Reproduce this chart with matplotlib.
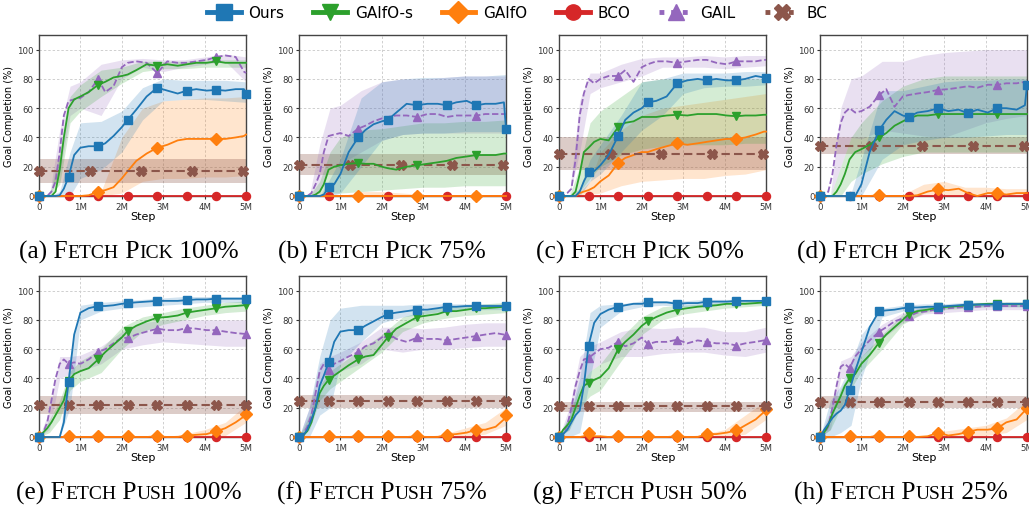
import numpy as np
import matplotlib
matplotlib.use("Agg")
import matplotlib.pyplot as plt
from matplotlib.lines import Line2D
from matplotlib.offsetbox import TextArea, HPacker, AnnotationBbox

# training steps (millions) for the mean curves, and a coarser grid for the bands
steps = [0, 0.1, 0.2, 0.3, 0.4, 0.5, 0.6, 0.714, 0.85, 1.0, 1.2, 1.429, 1.6, 1.8, 2.0,
         2.143, 2.35, 2.6, 2.857, 3.1, 3.35, 3.571, 3.8, 4.05, 4.286, 4.5, 4.75, 4.95, 5.0]
band_steps = [0, 0.25, 0.5, 0.75, 1, 1.5, 2, 2.5, 3, 3.5, 4, 4.5, 5]

tick_labels = ["0", "1M", "2M", "3M", "4M", "5M"]
methods = ["Ours", "GAIfO-s", "GAIfO", "BCO", "GAIL", "BC"]
captions = [("a", "Pick", "100%"), ("b", "Pick", "75%"), ("c", "Pick", "50%"), ("d", "Pick", "25%"),
            ("e", "Push", "100%"), ("f", "Push", "75%"), ("g", "Push", "50%"), ("h", "Push", "25%")]

zeros = [0] * len(steps)
band_zeros = [0] * len(band_steps)

# ---- (a) Fetch Pick 100%
pick100_ours = [0, 0, 0, 0, 0, 0.5, 5, 13, 28, 33, 34, 34, 36, 41, 47, 52, 59, 68, 74, 72, 70, 72, 73, 72, 72.5, 72, 73, 73, 70]
pick100_ours_lo = [0, 0, 0, 0, 12, 18, 30, 52, 65, 66, 66, 65, 64]
pick100_ours_hi = [0, 0, 3, 30, 50, 51, 58, 74, 80, 79, 79, 79, 78]
pick100_gaifos = [0, 0, 0, 0, 3, 18, 40, 60, 66, 68, 71, 76, 78, 81, 82, 83, 86, 90, 89, 90, 89, 90, 91, 91, 92, 91, 91, 91, 91]
pick100_gaifos_lo = [0, 0, 8, 50, 58, 68, 77, 85, 87, 87, 88, 88, 88]
pick100_gaifos_hi = [0, 0, 30, 68, 76, 86, 88, 92, 92, 92, 93, 93, 93]
pick100_gail = [0, 0, 0, 3, 10, 30, 55, 65, 66, 67, 71, 80, 71, 75, 88, 91, 92, 91, 84, 92, 91, 91, 92, 93, 95, 96, 95, 85, 84]
pick100_gail_lo = [0, 0, 15, 55, 60, 55, 80, 88, 85, 88, 90, 92, 78]
pick100_gail_hi = [0, 0, 45, 75, 78, 90, 93, 94, 93, 93, 95, 97, 95]
pick100_gaifo = [0, 0, 0, 0, 0, 0, 0, 0, 0, 0, 0.5, 3, 4, 6, 12, 17, 24, 29, 33, 35, 38, 39, 39, 39, 39, 39, 40, 41, 42]
pick100_gaifo_lo = [0, 0, 0, 0, 0, 0, 2, 10, 12, 12, 13, 13, 14]
pick100_gaifo_hi = [0, 0, 0, 0, 0, 3, 40, 60, 65, 66, 67, 67, 68]
pick100_bc, pick100_bc_band = 17, (9, 25)

# ---- (b) Fetch Pick 75%
pick75_ours = [0, 0, 0, 0, 0, 0, 1, 6, 8, 15, 30, 40, 45, 49, 51, 52, 57, 63, 62, 63, 63, 62, 64, 65, 62, 63, 63, 64, 46]
pick75_ours_lo = [0, 0, 0, 0, 2, 20, 38, 42, 43, 43, 44, 44, 44]
pick75_ours_hi = [0, 0, 0, 12, 25, 67, 78, 80, 81, 81, 82, 82, 83]
pick75_gaifos = [0, 0, 0, 0, 1, 3, 8, 18, 20, 21, 22, 22.5, 22, 22, 20, 19, 18, 20, 21, 22, 23, 24, 26, 27, 28, 28, 28, 29, 29]
pick75_gaifos_lo = [0, 0, 0, 2, 2, 3, 4, 5, 6, 6, 7, 7, 7]
pick75_gaifos_hi = [0, 0, 10, 30, 40, 45, 46, 48, 50, 50, 51, 51, 52]
pick75_gail = [0, 0, 0, 2, 8, 15, 30, 41, 42, 43, 41, 46, 48, 51, 53, 54, 55, 55, 54, 56, 56, 54, 55, 55, 55, 56, 56, 56, 56]
pick75_gail_lo = [0, 0, 2, 20, 22, 30, 38, 42, 43, 43, 43, 43, 43]
pick75_gail_hi = [0, 0, 35, 60, 62, 72, 78, 80, 80, 81, 82, 82, 82]
pick75_gaifo = zeros
pick75_gaifo_lo = band_zeros
pick75_gaifo_hi = [0, 0, 0, 0, 0, 3, 3, 2, 1, 1, 1, 1, 1]
pick75_bc, pick75_bc_band = 21.5, (14.5, 29)

# ---- (c) Fetch Pick 50%
pick50_ours = [0, 0, 0, 0, 0, 3, 10, 16.5, 17, 21, 28, 41, 52, 57, 60, 64, 65, 68, 77, 79, 80, 79, 80, 79, 79, 80, 82, 81, 80.5]
pick50_ours_lo = [0, 0, 0, 10, 15, 30, 45, 55, 70, 74, 75, 75, 76]
pick50_ours_hi = [0, 0, 5, 25, 35, 55, 78, 80, 84, 84, 84, 85, 85]
pick50_gaifos = [0, 0, 0, 0, 3, 15, 30, 33, 37, 39, 38, 47, 50, 51, 54, 54, 54, 55, 55.5, 55, 56, 56, 56, 55, 54.5, 55, 55, 55.5, 55.5]
pick50_gaifos_lo = [0, 0, 3, 12, 20, 28, 32, 34, 35, 35, 35, 36, 36]
pick50_gaifos_hi = [0, 0, 20, 50, 58, 68, 78, 80, 80, 80, 80, 80, 80]
pick50_gail = [0, 0, 2, 5, 25, 55, 70, 80, 77, 80, 82, 82, 86, 78, 88, 90, 92, 92, 91, 92, 93, 93, 91, 90, 92, 92, 92, 93, 93]
pick50_gail_lo = [0, 0, 30, 70, 74, 78, 82, 88, 88, 88, 87, 88, 89]
pick50_gail_hi = [0, 0, 65, 84, 84, 90, 94, 95, 95, 96, 95, 96, 96]
pick50_gaifo = [0, 0, 0, 0, 0, 2, 3, 4, 6, 10, 14, 22.5, 26, 28, 30, 30, 32, 34, 36, 35, 36, 37, 38, 39, 39, 40, 42, 44, 44]
pick50_gaifo_lo = [0, 0, 0, 1, 2, 7, 10, 11, 12, 12, 14, 15, 18]
pick50_gaifo_hi = [0, 0, 3, 10, 30, 45, 55, 60, 62, 64, 66, 68, 70]
pick50_bc, pick50_bc_band = 29, (18, 40)

# ---- (d) Fetch Pick 25%
pick25_ours = [0, 0, 0, 0, 0, 0, 0, 0, 0, 8, 30, 45, 52, 58, 55, 54, 57, 58, 60, 58, 59, 56.5, 59, 57, 60, 60, 59, 62, 76]
pick25_ours_lo = [0, 0, 0, 0, 0, 25, 35, 38, 40, 40, 41, 42, 42]
pick25_ours_hi = [0, 0, 0, 2, 25, 72, 72, 75, 78, 79, 79, 80, 80]
pick25_gaifos = [0, 0, 0, 0, 3, 8, 15, 25, 30, 32, 35, 40, 43, 48, 51, 53, 55, 55, 56, 56, 56, 56, 56, 56, 56, 56, 56, 56, 56]
pick25_gaifos_lo = [0, 0, 0, 10, 15, 22, 27, 30, 30, 30, 30, 30, 30]
pick25_gaifos_hi = [0, 0, 20, 40, 50, 65, 75, 80, 82, 82, 82, 82, 82]
pick25_gail = [0, 0, 3, 15, 35, 50, 57, 60, 57, 58, 61, 69, 73, 61, 68, 69, 70, 71, 72.5, 73, 74, 75, 74, 76, 76, 77, 77, 78, 78]
pick25_gail_lo = [0, 0, 20, 40, 39, 45, 43, 41, 40, 45, 50, 53, 55]
pick25_gail_hi = [0, 0, 60, 80, 82, 92, 92, 96, 98, 99, 100, 100, 100]
pick25_gaifo = [0, 0, 0, 0, 0, 0, 0, 0, 0, 0, 0, 0.5, 0, 0, 0, 0, 0.5, 3, 4.5, 4, 5, 2, 0, 2, 2, 1, 2, 2, 2]
pick25_gaifo_lo = band_zeros
pick25_gaifo_hi = [0, 0, 0, 0, 0, 1, 1, 8, 10, 6, 6, 5, 5]
pick25_bc, pick25_bc_band = 34.5, (29, 40)

# ---- (e) Fetch Push 100%
push100_ours = [0, 0, 0, 0, 0, 0, 10, 37.5, 70, 85, 88, 89.5, 89.5, 90, 91, 91.5, 92, 92.5, 93, 93, 93, 93.5, 94, 94, 94.5, 94.5, 94.5, 94.5, 94.5]
push100_ours_lo = [0, 0, 0, 20, 80, 86, 88, 89, 90, 91, 92, 92, 92]
push100_ours_hi = [0, 0, 0, 55, 90, 92, 93, 94, 95, 96, 96, 96, 96]
push100_gaifos = [0, 3, 6, 10, 15, 20, 25, 38, 43, 45, 47, 53, 58, 63, 68, 72.5, 76, 79, 81.5, 82, 83, 85, 86, 87, 88, 89, 89.5, 90, 90]
push100_gaifos_lo = [0, 3, 12, 32, 38, 44, 60, 72, 77, 80, 83, 85, 86]
push100_gaifos_hi = [0, 12, 25, 45, 52, 60, 75, 82, 85, 88, 90, 92, 93]
push100_gail = [0, 3, 10, 25, 40, 50, 53, 50, 51, 50, 53, 58, 60, 64, 68, 67.5, 70, 72, 74, 73, 73, 74.5, 74, 73, 73, 72, 71, 70.5, 70.5]
push100_gail_lo = [0, 5, 40, 43, 45, 50, 60, 63, 65, 64, 63, 62, 62]
push100_gail_hi = [0, 18, 55, 55, 56, 62, 72, 78, 80, 80, 80, 80, 80]
push100_gaifo = [0, 0, 0, 0, 0, 0, 0, 0.5, 0, 0, 0, 0.5, 0, 0, 0, 0.5, 0, 0, 0.5, 0, 0, 1, 1.5, 2, 4, 6, 10, 14, 16]
push100_gaifo_lo = [0, 0, 0, 0, 0, 0, 0, 0, 0, 0, 0, 1, 10]
push100_gaifo_hi = [0, 0, 0, 0, 0, 0, 0, 0, 0, 2, 5, 10, 22]
push100_bc, push100_bc_band = 22, (16, 28)

# ---- (f) Fetch Push 75%
push75_ours = [0, 1, 5, 12, 20, 35, 42, 51, 65, 72, 73, 73, 76, 79, 82, 84, 85, 86, 87, 87, 88, 89, 89, 89.5, 89.5, 89.5, 89.5, 89.5, 89.5]
push75_ours_lo = [0, 0, 15, 20, 50, 65, 78, 82, 84, 86, 87, 87, 87]
push75_ours_hi = [0, 20, 55, 80, 88, 90, 90, 90, 91, 91, 91, 91, 91]
push75_gaifos = [0, 1, 4, 10, 20, 30, 35, 39, 42, 45, 49, 53, 55, 56, 63, 68, 74, 78, 82, 83, 84, 86, 86, 87, 88, 88, 88.5, 89, 89]
push75_gaifos_lo = [0, 5, 25, 33, 38, 48, 58, 72, 78, 81, 83, 84, 85]
push75_gaifos_hi = [0, 15, 35, 45, 50, 60, 70, 82, 86, 89, 90, 91, 92]
push75_gail = [0, 2, 7, 15, 30, 45, 50, 46, 50, 52, 55, 58, 62, 64, 68, 71, 67, 65, 68, 67, 67, 66, 67, 68, 69, 70, 71, 70, 70]
push75_gail_lo = [0, 8, 35, 40, 45, 50, 60, 58, 60, 60, 61, 62, 62]
push75_gail_hi = [0, 20, 50, 55, 58, 65, 75, 75, 74, 75, 77, 78, 78]
push75_gaifo = [0, 0, 0, 0, 0, 0, 0, 1, 0, 0, 0, 0.5, 0, 0, 0, 0.5, 0, 0, 0.5, 0, 0, 1.5, 2, 3, 5, 5, 7, 12, 15]
push75_gaifo_lo = [0, 0, 0, 0, 0, 0, 0, 0, 0, 0, 0, 2, 8]
push75_gaifo_hi = [0, 0, 0, 0, 0, 0, 0, 0, 0, 2, 6, 10, 20]
push75_bc, push75_bc_band = 24.5, (20, 29)

# ---- (g) Fetch Push 50%
push50_ours = [0, 2, 5, 10, 15, 18, 35, 62.5, 78, 84, 87, 89, 90, 91, 91, 92, 92, 92, 91, 91.5, 91.5, 92.5, 92.5, 92.5, 93, 93, 93, 93, 93]
push50_ours_lo = [0, 0, 3, 40, 75, 86, 89, 90, 89, 90, 91, 91, 91]
push50_ours_hi = [0, 15, 40, 85, 90, 91, 93, 93, 93, 94, 94, 94, 94]
push50_gaifos = [0, 5, 8, 12, 20, 28, 35, 37, 39, 41, 47, 60, 65, 70, 76, 79, 82, 85, 87, 88, 89, 89.5, 90, 91, 91, 91, 91.5, 92, 92]
push50_gaifos_lo = [0, 5, 20, 28, 32, 52, 70, 80, 84, 86, 88, 89, 90]
push50_gaifos_hi = [0, 15, 35, 45, 50, 68, 82, 89, 90, 91, 92, 93, 93]
push50_gail = [0, 2, 8, 20, 35, 45, 53, 54, 57, 60, 61, 65, 62, 64, 68, 63.5, 65, 65, 66.5, 64, 66, 65, 64, 64, 62.5, 64, 65, 66, 66]
push50_gail_lo = [0, 5, 35, 45, 50, 55, 55, 57, 58, 58, 56, 55, 58]
push50_gail_hi = [0, 20, 55, 62, 65, 72, 75, 74, 75, 75, 72, 72, 75]
push50_gaifo = [0, 0, 0, 0, 0, 0, 0.5, 3, 0.5, 0.5, 0, 0.5, 0, 0, 0, 0.5, 0, 0, 0.5, 0, 0, 2, 2, 3, 4.5, 8, 12, 17, 19]
push50_gaifo_lo = [0, 0, 0, 0, 0, 0, 0, 0, 0, 0, 0, 2, 12]
push50_gaifo_hi = [0, 0, 0, 2, 0, 0, 0, 0, 0, 2, 5, 15, 25]
push50_bc, push50_bc_band = 21, (17, 24)

# ---- (h) Fetch Push 25%
push25_ours = [0, 5, 9, 13, 16, 18, 22, 32, 45, 58, 75, 86, 86.5, 87, 88, 88.5, 88.5, 89, 89, 89.5, 90, 90.5, 90.5, 90.5, 90.5, 91, 91, 91, 91]
push25_ours_lo = [0, 0, 3, 8, 40, 82, 86, 87, 88, 89, 89, 89, 89]
push25_ours_hi = [0, 25, 35, 50, 70, 88, 90, 91, 91, 92, 92, 92, 92]
push25_gaifos = [0, 3, 8, 16, 22, 28, 35, 40, 43, 50, 56, 64.5, 70, 75, 80, 84, 86, 87, 88.5, 89, 89.5, 90, 90.5, 91, 91, 91, 91, 91, 91]
push25_gaifos_lo = [0, 5, 20, 33, 45, 60, 77, 85, 87, 88, 89, 89, 89]
push25_gaifos_hi = [0, 15, 33, 45, 55, 70, 84, 89, 90, 91, 92, 92, 92]
push25_gail = [0, 2, 7, 20, 35, 48, 50, 47, 55, 60, 66, 72, 75, 79, 81, 82.5, 85, 86, 87.5, 88, 88.5, 89, 89, 89.5, 89.5, 89.5, 89.5, 89.5, 89.5]
push25_gail_lo = [0, 5, 40, 42, 55, 67, 78, 84, 85, 86, 87, 87, 87]
push25_gail_hi = [0, 18, 52, 55, 65, 77, 85, 89, 90, 91, 92, 92, 92]
push25_gaifo = [0, 0, 0, 0, 0, 0, 0, 0.5, 0, 0, 0, 1, 0, 0, 0, 0.5, 0, 0.5, 3, 1, 2, 3.5, 5, 5, 6, 10, 12, 18, 20]
push25_gaifo_lo = [0, 0, 0, 0, 0, 0, 0, 0, 0, 0, 1, 3, 12]
push25_gaifo_hi = [0, 0, 0, 0, 0, 0, 0, 0, 4, 6, 8, 13, 25]
push25_bc, push25_bc_band = 24, (20, 28)

bco = zeros  # BCO never completes the goal

bc_marks_top = [0, 1.23, 2.46, 3.69, 4.92]
bc_marks_bottom = [0, 0.714, 1.429, 2.143, 2.857, 3.571, 4.286, 5.0]

panels = [
    (pick100_ours, pick100_ours_lo, pick100_ours_hi, pick100_gaifos, pick100_gaifos_lo, pick100_gaifos_hi,
     pick100_gaifo, pick100_gaifo_lo, pick100_gaifo_hi, pick100_gail, pick100_gail_lo, pick100_gail_hi,
     pick100_bc, pick100_bc_band),
    (pick75_ours, pick75_ours_lo, pick75_ours_hi, pick75_gaifos, pick75_gaifos_lo, pick75_gaifos_hi,
     pick75_gaifo, pick75_gaifo_lo, pick75_gaifo_hi, pick75_gail, pick75_gail_lo, pick75_gail_hi,
     pick75_bc, pick75_bc_band),
    (pick50_ours, pick50_ours_lo, pick50_ours_hi, pick50_gaifos, pick50_gaifos_lo, pick50_gaifos_hi,
     pick50_gaifo, pick50_gaifo_lo, pick50_gaifo_hi, pick50_gail, pick50_gail_lo, pick50_gail_hi,
     pick50_bc, pick50_bc_band),
    (pick25_ours, pick25_ours_lo, pick25_ours_hi, pick25_gaifos, pick25_gaifos_lo, pick25_gaifos_hi,
     pick25_gaifo, pick25_gaifo_lo, pick25_gaifo_hi, pick25_gail, pick25_gail_lo, pick25_gail_hi,
     pick25_bc, pick25_bc_band),
    (push100_ours, push100_ours_lo, push100_ours_hi, push100_gaifos, push100_gaifos_lo, push100_gaifos_hi,
     push100_gaifo, push100_gaifo_lo, push100_gaifo_hi, push100_gail, push100_gail_lo, push100_gail_hi,
     push100_bc, push100_bc_band),
    (push75_ours, push75_ours_lo, push75_ours_hi, push75_gaifos, push75_gaifos_lo, push75_gaifos_hi,
     push75_gaifo, push75_gaifo_lo, push75_gaifo_hi, push75_gail, push75_gail_lo, push75_gail_hi,
     push75_bc, push75_bc_band),
    (push50_ours, push50_ours_lo, push50_ours_hi, push50_gaifos, push50_gaifos_lo, push50_gaifos_hi,
     push50_gaifo, push50_gaifo_lo, push50_gaifo_hi, push50_gail, push50_gail_lo, push50_gail_hi,
     push50_bc, push50_bc_band),
    (push25_ours, push25_ours_lo, push25_ours_hi, push25_gaifos, push25_gaifos_lo, push25_gaifos_hi,
     push25_gaifo, push25_gaifo_lo, push25_gaifo_hi, push25_gail, push25_gail_lo, push25_gail_hi,
     push25_bc, push25_bc_band),
]

C_OURS, C_GS, C_GO, C_BCO, C_GAIL, C_BC = "#1f77b4", "#2ca02c", "#ff7f0e", "#d62728", "#9467bd", "#8c564b"
every_mark = [0, 7, 11, 15, 18, 21, 24, 28]
sparse_mark = [0, 11, 18, 24]

plt.rcParams["font.family"] = "DejaVu Sans"
fig = plt.figure(figsize=(10.29, 5.06), dpi=100)

W, H = 1029.0, 506.0
lefts = [39, 299, 559, 820]
tops = [36, 277]
cap_x = [129, 382, 640, 901]
cap_y = [252, 493]


def caption(tag, task, pct, x, y):
    big, small = 18.3, 14.0
    parts = [("(%s) F" % tag, big), ("ETCH", small), (" " + task[0], big),
             (task[1:].upper(), small), (" " + pct, big)]
    boxes = [TextArea(t, textprops=dict(fontsize=s, family="Liberation Serif", color="black"))
             for t, s in parts]
    pack = HPacker(children=boxes, align="baseline", pad=0, sep=0)
    ab = AnnotationBbox(pack, (x / W, 1 - y / H), xycoords="figure fraction",
                        frameon=False, box_alignment=(0.5, 0.5), pad=0)
    fig.add_artist(ab)


for i, p in enumerate(panels):
    (ours, ours_lo, ours_hi, gs, gs_lo, gs_hi, go, go_lo, go_hi,
     gail, gail_lo, gail_hi, bc, bc_band) = p
    row, col = divmod(i, 4)
    ax = fig.add_axes([lefts[col] / W, 1 - (tops[row] + 161) / H, 207 / W, 161 / H])
    top = row == 0
    marks = sparse_mark if top else every_mark

    # shaded spread
    ax.fill_between(band_steps, go_lo, go_hi, color=C_GO, alpha=0.2, lw=0, zorder=1)
    ax.fill_between([0, 5], bc_band[0], bc_band[1], color=C_BC, alpha=0.3, lw=0, zorder=1)
    ax.fill_between(band_steps, gail_lo, gail_hi, color=C_GAIL, alpha=0.2, lw=0, zorder=1)
    ax.fill_between(band_steps, gs_lo, gs_hi, color=C_GS, alpha=0.2, lw=0, zorder=1)
    ax.fill_between(band_steps, ours_lo, ours_hi, color=C_OURS, alpha=0.2, lw=0, zorder=1)

    kw = dict(lw=1.3, ms=5.8, clip_on=False)
    ax.plot(steps, bco, color=C_BCO, marker="o", markevery=every_mark, zorder=3, **kw)
    ax.plot(steps, go, color=C_GO, marker="D", markevery=marks, zorder=4, **kw)
    ax.plot([0, 5], [bc, bc], color=C_BC, ls=(0, (4, 2)), lw=1.5, zorder=5, clip_on=False)
    bcm = bc_marks_top if top else bc_marks_bottom
    ax.plot(bcm, [bc] * len(bcm), ls="none", color=C_BC, marker="X", ms=6.5, zorder=5, clip_on=False)
    ax.plot(steps, gail, color=C_GAIL, ls=(0, (3.5, 1.5)), marker="^", markevery=marks, zorder=6, **kw)
    ax.plot(steps, gs, color=C_GS, marker="v", markevery=marks, zorder=7, **kw)
    ax.plot(steps, ours, color=C_OURS, marker="s", markevery=every_mark, zorder=8, **kw)

    ax.set_xlim(0, 5)
    ax.set_ylim(0, 110)
    ax.set_xticks(range(6))
    ax.set_xticklabels(tick_labels)
    ax.set_yticks(range(0, 101, 20))
    ax.tick_params(labelsize=6.2, length=2.5, width=0.8, pad=1.5, colors="#333333")
    ax.grid(True, color="#cfcfcf", ls=(0, (2.5, 2)), lw=0.7, zorder=0)
    ax.set_axisbelow(True)
    for s in ax.spines.values():
        s.set_color("#444444")
        s.set_linewidth(1.0)
    ax.set_xlabel("Step", fontsize=8, labelpad=0.5)
    ax.set_ylabel("Goal Completion (%)", fontsize=7, labelpad=2)

    tag, task, pct = captions[i]
    caption(tag, task, pct, cap_x[col], cap_y[row])

handles = [
    Line2D([], [], color=C_OURS, lw=3.5, marker="s", ms=11),
    Line2D([], [], color=C_GS, lw=3.5, marker="v", ms=11),
    Line2D([], [], color=C_GO, lw=3.5, marker="D", ms=11),
    Line2D([], [], color=C_BCO, lw=3.5, marker="o", ms=11),
    Line2D([], [], color=C_GAIL, lw=3.5, ls=(0, (1, 1.4)), marker="^", ms=11),
    Line2D([], [], color=C_BC, lw=3.5, ls=(0, (1, 1.4)), marker="X", ms=11),
]
fig.legend(handles, methods, loc="center", bbox_to_anchor=(517 / W, 1 - 14 / H), ncol=6,
           frameon=False, fontsize=11, handlelength=2.2, columnspacing=1.9, handletextpad=0.5)

fig.savefig("out.png", dpi=100)
